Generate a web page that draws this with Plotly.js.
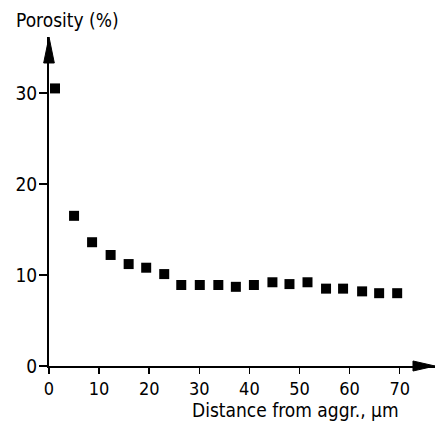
<!DOCTYPE html>
<html>
<head>
<meta charset="utf-8">
<script src="https://cdn.plot.ly/plotly-3.0.1.min.js"></script>
<style>html,body{margin:0;padding:0;background:#fff;}#chart{width:435px;height:423px;}</style>
</head>
<body>
<div id="chart"></div>
<script>
// Data
const distance = [1.2, 5.0, 8.6, 12.3, 15.9, 19.4, 23.0, 26.4, 30.1, 33.8, 37.3, 40.9, 44.6, 48.0, 51.6, 55.3, 58.7, 62.5, 65.9, 69.5];
const porosity = [30.5, 16.5, 13.6, 12.2, 11.2, 10.8, 10.1, 8.9, 8.9, 8.9, 8.7, 8.9, 9.2, 9.0, 9.2, 8.5, 8.5, 8.2, 8.0, 8.0];
const xTicks = [0, 10, 20, 30, 40, 50, 60, 70];
const yTicks = [0, 10, 20, 30];
const yTitle = 'Porosity (%)';
const xTitle = 'Distance from aggr., µm';

const FONT = '"DejaVu Sans Condensed", "Liberation Sans Narrow", "DejaVu Sans", sans-serif';

const trace = {
  x: distance, y: porosity, type: 'scatter', mode: 'markers',
  marker: {symbol: 'square', size: 10, color: '#000'},
  hoverinfo: 'skip'
};

const layout = {
  width: 435, height: 423,
  margin: {l: 49, r: 0, t: 37, b: 57, pad: 0},
  paper_bgcolor: '#fff', plot_bgcolor: '#fff',
  showlegend: false,
  font: {family: FONT, size: 19, color: '#000'},
  xaxis: {
    range: [0, 77.05], showgrid: false, zeroline: false,
    showline: true, linecolor: '#000', linewidth: 2,
    tickmode: 'array', tickvals: xTicks, ticktext: xTicks.map(String),
    ticks: 'outside', ticklen: 6, tickwidth: 1.5, tickcolor: '#000',
    ticklabelstandoff: -1,
    tickfont: {family: FONT, size: 18, color: '#000'}
  },
  yaxis: {
    range: [0, 36.15], showgrid: false, zeroline: false,
    showline: true, linecolor: '#000', linewidth: 2,
    tickmode: 'array', tickvals: yTicks, ticktext: yTicks.map(String),
    ticks: 'outside', ticklen: 8, tickwidth: 1.5, tickcolor: '#000',
    ticklabelstandoff: -2,
    tickfont: {family: FONT, size: 19, color: '#000'}
  },
  shapes: [
    {type: 'path', xref: 'paper', yref: 'paper',
     path: 'M -0.0138,0.921 L 0,1 L 0.0138,0.921 Z',
     fillcolor: '#000', line: {color: '#000', width: 1}},
    {type: 'path', xref: 'paper', yref: 'paper',
     path: 'M 0.943,-0.0152 L 1,0 L 0.943,0.0152 Z',
     fillcolor: '#000', line: {color: '#000', width: 1}}
  ],
  annotations: [
    {text: yTitle, xref: 'paper', yref: 'paper', x: -0.09, y: 1.0517,
     xanchor: 'left', yanchor: 'middle', showarrow: false,
     font: {family: FONT, size: 19, color: '#000'}},
    {text: xTitle, xref: 'x', yref: 'paper', x: 70.2, y: -0.1337,
     xanchor: 'right', yanchor: 'middle', showarrow: false,
     font: {family: FONT, size: 19, color: '#000'}}
  ]
};

Plotly.newPlot('chart', [trace], layout, {staticPlot: true, displayModeBar: false});
</script>
</body>
</html>
